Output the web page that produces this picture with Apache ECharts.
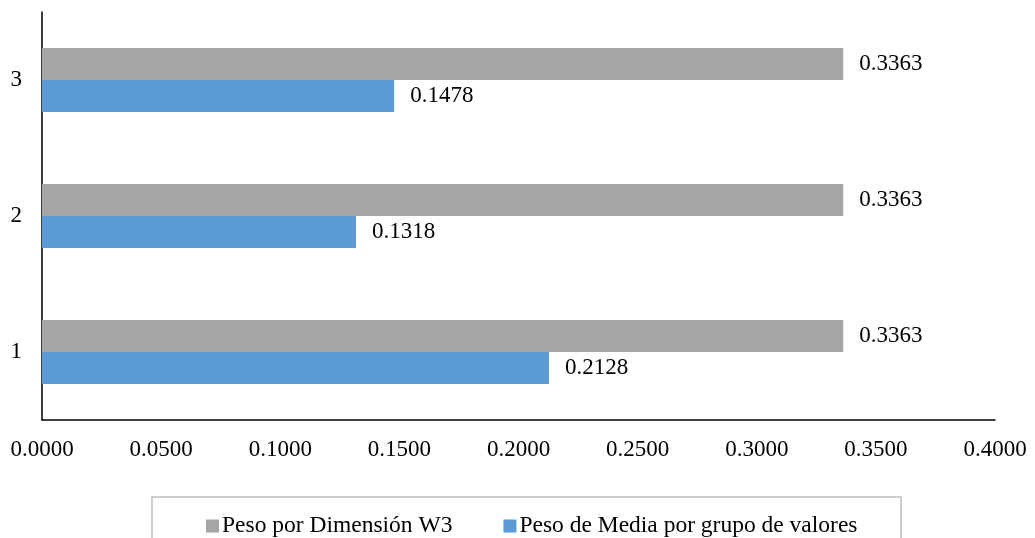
<!DOCTYPE html>
<html>
<head>
<meta charset="utf-8">
<script src="https://cdn.jsdelivr.net/npm/echarts@6/dist/echarts.min.js"></script>
<style>
  html, body { margin: 0; padding: 0; background: #ffffff; }
  #chart { width: 1035px; height: 538px; }
</style>
</head>
<body>
<div id="chart"></div>
<script>
// Category labels (bottom to top) and the two weight series
const categories = ['1', '2', '3'];
const pesoDimension = [0.3363, 0.3363, 0.3363];
const pesoMedia = [0.2128, 0.1318, 0.1478];
const seriesNames = ['Peso por Dimensión W3', 'Peso de Media por grupo de valores'];
const xTicks = { min: 0, max: 0.4, step: 0.05 };

const FONT = '"Liberation Serif", "Times New Roman", serif';
const GRAY = '#A5A5A5';
const BLUE = '#5B9BD5';

const chart = echarts.init(document.getElementById('chart'), null, { renderer: 'canvas' });

const valueLabel = {
  show: true,
  position: 'right',
  distance: 16,
  color: '#000',
  fontFamily: FONT,
  fontSize: 23,
  formatter: p => p.value.toFixed(4)
};

chart.setOption({
  animation: false,
  backgroundColor: '#ffffff',
  textStyle: { fontFamily: FONT },
  grid: { left: 42, right: 40, top: 12, bottom: 118, containLabel: false },
  xAxis: {
    type: 'value',
    min: xTicks.min,
    max: xTicks.max,
    interval: xTicks.step,
    axisLine: { show: true, lineStyle: { color: '#000', width: 1.5 } },
    axisTick: { show: false },
    splitLine: { show: false },
    axisLabel: {
      color: '#000', fontFamily: FONT, fontSize: 23, margin: 18,
      formatter: v => v.toFixed(4)
    }
  },
  yAxis: {
    type: 'category',
    data: categories,
    axisLine: { show: true, lineStyle: { color: '#000', width: 1.5 } },
    axisTick: { show: false },
    axisLabel: { color: '#000', fontFamily: FONT, fontSize: 23, margin: 20 }
  },
  legend: {
    data: [seriesNames[0], seriesNames[1]],
    left: 201,
    top: 509,
    icon: 'rect',
    itemWidth: 13,
    itemHeight: 13,
    itemGap: 51,
    textStyle: { color: '#000', fontFamily: FONT, fontSize: 23.5, padding: [0, 0, 0, -2] }
  },
  graphic: [{
    type: 'rect',
    z: -1,
    shape: { x: 152, y: 497, width: 749, height: 60 },
    style: { fill: 'none', stroke: '#BFBFBF', lineWidth: 1.5 }
  }],
  series: [
    {
      name: seriesNames[0],
      type: 'bar',
      data: pesoDimension,
      barWidth: 32,
      barGap: '0%',
      itemStyle: { color: GRAY },
      label: valueLabel
    },
    {
      name: seriesNames[1],
      type: 'bar',
      data: pesoMedia,
      barWidth: 32,
      barGap: '0%',
      itemStyle: { color: BLUE },
      label: valueLabel
    }
  ]
});
</script>
</body>
</html>
